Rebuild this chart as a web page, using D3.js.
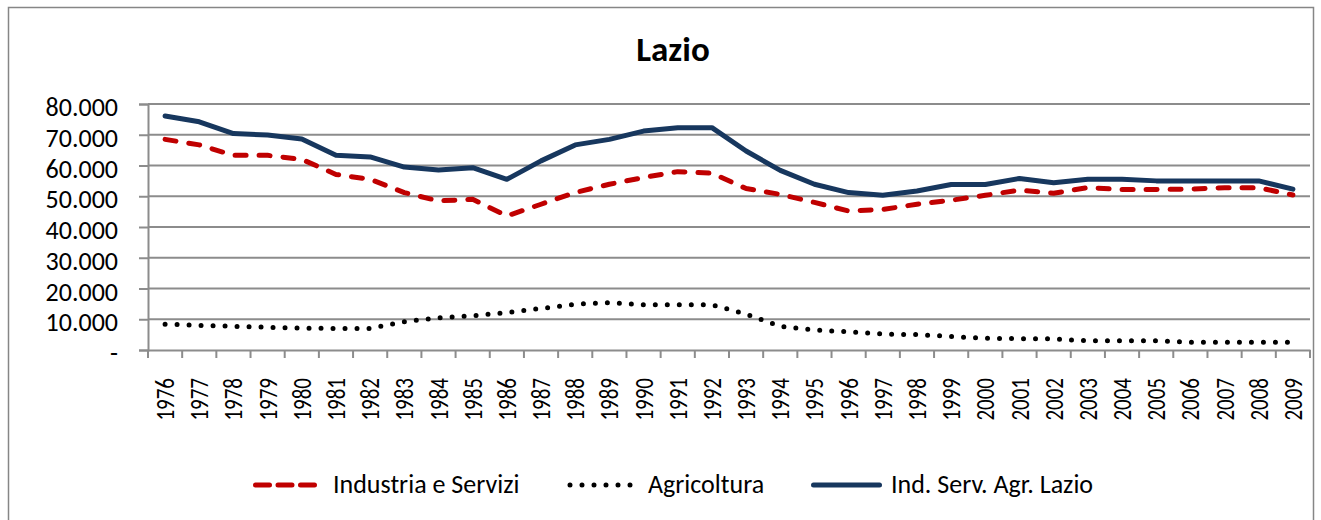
<!DOCTYPE html>
<html>
<head>
<meta charset="utf-8">
<script src="https://cdn.jsdelivr.net/npm/d3@7/dist/d3.min.js"></script>
<style>
  body { margin: 0; background: #fff; }
  text { font-family: Calibri, Carlito, Lato, "Open Sans", sans-serif; fill: #000; }
</style>
</head>
<body>
<script>
const years = d3.range(1976, 2010).map(String)

const industriaServizi = [68.5, 66.7, 63.3, 63.3, 62.0, 57.1, 55.5, 51.2, 48.5, 49.0,
  43.6, 47.4, 51.2, 53.9, 56.1, 58.0, 57.5, 52.5, 50.6, 48.0,
  45.2, 45.7, 47.4, 48.7, 50.3, 52.0, 51.0, 52.8, 52.2, 52.2,
  52.3, 52.8, 52.8, 50.4].map(v => v * 1000)

const agricoltura = [8.4, 8.0, 7.7, 7.4, 7.1, 7.0, 7.0, 9.2, 10.5, 11.1,
  12.2, 13.5, 14.9, 15.4, 14.7, 14.7, 14.7, 11.7, 7.7, 6.5,
  5.9, 5.2, 5.0, 4.4, 3.8, 3.7, 3.6, 3.0, 3.0, 3.0,
  2.5, 2.5, 2.5, 2.5].map(v => v * 1000)

const totaleLazio = [76.1, 74.2, 70.4, 69.9, 68.6, 63.3, 62.8, 59.5, 58.5, 59.3,
  55.5, 61.5, 66.7, 68.5, 71.2, 72.3, 72.3, 64.7, 58.4, 53.9,
  51.2, 50.3, 51.7, 53.8, 53.8, 55.8, 54.4, 55.5, 55.5, 55.0,
  55.0, 55.0, 55.0, 52.3].map(v => v * 1000)

const yTicks = [0, 10000, 20000, 30000, 40000, 50000, 60000, 70000, 80000]

const series = [
  { name: 'Industria e Servizi', values: industriaServizi, color: '#c00000', width: 5, dash: '11 13', legendDash: '14 8.5' },
  { name: 'Agricoltura', values: agricoltura, color: '#000', width: 5, dash: '0 12', legendDash: '0 12' },
  { name: 'Ind. Serv. Agr. Lazio', values: totaleLazio, color: '#17375e', width: 5, dash: null, legendDash: null }
]

const W = 1321, H = 520
const pLeft = 148, pRight = 1310, pTop = 104, pBottom = 350

const svg = d3.select('body').append('svg')
  .attr('width', W)
  .attr('height', H)

// chart border
svg.append('rect')
  .attr('x', 8.5).attr('y', 7.5)
  .attr('width', 1305).attr('height', 530)
  .attr('fill', 'none')
  .attr('stroke', '#868686')
  .attr('stroke-width', 1.5)

const x = d3.scaleBand().domain(years).range([pLeft, pRight])
const y = d3.scaleLinear().domain([0, 80000]).range([pBottom, pTop])

const fmt = v => v === 0 ? '-' : d3.format(',.3f')(v / 1000).replace(',', '.')

// gridlines
svg.append('g')
  .selectAll('line')
  .data(yTicks.filter(d => d > 0))
  .join('line')
  .attr('x1', pLeft).attr('x2', pRight)
  .attr('y1', d => y(d)).attr('y2', d => y(d))
  .attr('stroke', '#8c8c8c')
  .attr('stroke-width', 2)

// y axis
const yAxis = svg.append('g')
  .attr('transform', `translate(${pLeft},0)`)
  .call(d3.axisLeft(y).tickValues(yTicks).tickFormat(fmt).tickSize(9).tickPadding(21))
yAxis.select('.domain').attr('stroke', '#8c8c8c').attr('stroke-width', 2)
yAxis.selectAll('.tick line').attr('stroke', '#8c8c8c').attr('stroke-width', 2)
yAxis.selectAll('.tick text')
  .style('font-size', '26px')
  .attr('dy', '0.45em')

// x axis
const xAxis = svg.append('g')
  .attr('transform', `translate(0,${pBottom})`)
  .call(d3.axisBottom(x).tickSize(0))
xAxis.select('.domain').attr('stroke', '#8c8c8c').attr('stroke-width', 2)
xAxis.selectAll('.tick text')
  .style('font-size', '21px')
  .attr('transform', 'rotate(-90) scale(1,1.3)')
  .attr('text-anchor', 'end')
  .attr('x', -28)
  .attr('y', 0)
  .attr('dy', '0.33em')

// category boundary ticks
const bounds = years.map(d => x(d)).concat([pRight])
svg.append('g')
  .selectAll('line')
  .data(bounds)
  .join('line')
  .attr('x1', d => d).attr('x2', d => d)
  .attr('y1', pBottom).attr('y2', pBottom + 8)
  .attr('stroke', '#8c8c8c')
  .attr('stroke-width', 2)

const line = d3.line()
  .x((d, i) => x(years[i]) + x.bandwidth() / 2)
  .y(d => y(d))

series.forEach(s => {
  svg.append('path')
    .datum(s.values)
    .attr('d', line)
    .attr('fill', 'none')
    .attr('stroke', s.color)
    .attr('stroke-width', s.width)
    .attr('stroke-dasharray', s.dash)
    .attr('stroke-linecap', 'round')
    .attr('stroke-linejoin', 'round')
})

// title
svg.append('text')
  .attr('x', 673).attr('y', 61)
  .attr('text-anchor', 'middle')
  .style('font-size', '35px')
  .style('font-weight', 'bold')
  .text('Lazio')

// legend
const legend = [
  { s: series[0], x1: 255.5, x2: 314.5, tx: 333 },
  { s: series[1], x1: 570, x2: 630.1, tx: 648 },
  { s: series[2], x1: 813.5, x2: 879.5, tx: 891 }
]
const lg = svg.append('g')
legend.forEach(l => {
  lg.append('line')
    .attr('x1', l.x1).attr('x2', l.x2)
    .attr('y1', 485).attr('y2', 485)
    .attr('stroke', l.s.color)
    .attr('stroke-width', l.s.width)
    .attr('stroke-dasharray', l.s.legendDash)
    .attr('stroke-linecap', 'round')
  lg.append('text')
    .attr('x', l.tx).attr('y', 493)
    .style('font-size', '26px')
    .text(l.s.name)
})
</script>
</body>
</html>
